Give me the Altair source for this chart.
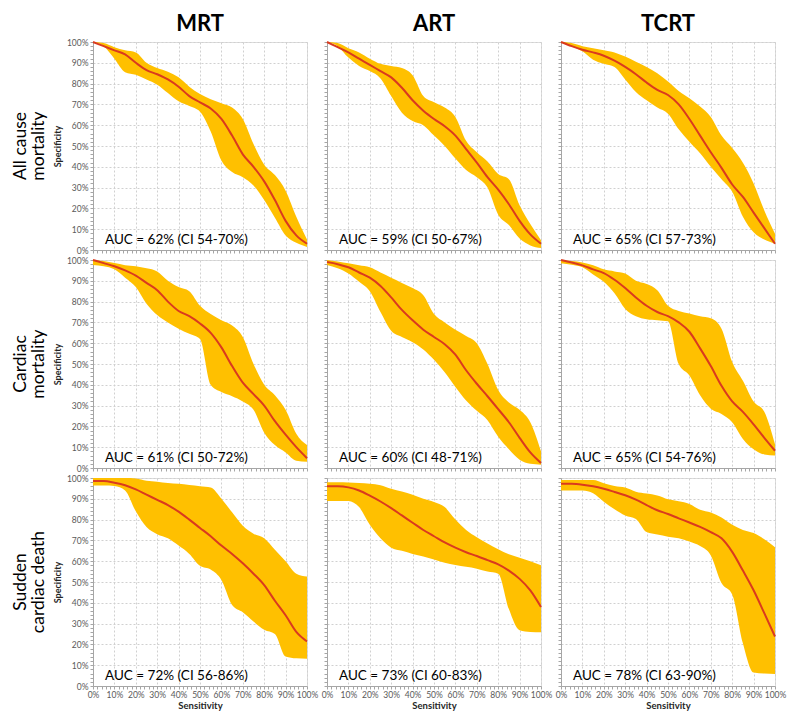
import altair as alt
import pandas as pd

# ---------------- data ----------------
SENS = [0, 5, 10, 15, 20, 25, 30, 35, 40, 45, 50, 55, 60, 65, 70, 75, 80, 85, 90, 95, 100]

COLS = ["MRT", "ART", "TCRT"]
ROWS = ["All cause\nmortality", "Cardiac\nmortality", "Sudden\ncardiac death"]

# All cause mortality
MRT_ALL_MID = [100, 98, 96, 94, 90, 86.5, 84.5, 82, 78.5, 74, 71, 68, 63, 55, 46, 40, 33, 24, 14, 7, 3]
MRT_ALL_LO = [100, 98, 92, 85.5, 84.2, 82, 79.5, 75.5, 71.5, 69.2, 66.5, 57, 43, 37.5, 35, 31, 24, 15.5, 7, 3.5, 1.5]
MRT_ALL_HI = [100, 99.5, 97.5, 96, 95, 90, 87.5, 85.7, 83, 78.5, 75, 72.5, 70.6, 68.5, 63, 51, 41, 36, 28.5, 16, 5]

ART_ALL_MID = [100, 97.5, 95, 92, 89, 86, 83, 78, 72, 67, 63, 59.5, 55, 48.5, 42, 35, 29, 22, 14, 7.5, 3]
ART_ALL_LO = [100, 98, 92.5, 88.5, 86, 82.5, 74, 66, 62, 60, 55, 50, 44, 38.5, 35, 30, 17, 12, 5.5, 2.2, 1]
ART_ALL_HI = [100, 99.5, 97, 95, 92, 89.5, 88.5, 87.5, 84, 74, 71, 68.5, 64, 52.5, 47, 42.5, 36.5, 34, 21.5, 12.5, 4.7]

TCRT_ALL_MID = [100, 98, 96.3, 95, 93.4, 91, 88, 84.5, 80.5, 77, 74.5, 70, 63, 55, 47, 39.5, 31.5, 25.5, 18, 10.5, 3]
TCRT_ALL_LO = [100, 98, 95.5, 91.5, 89.5, 88, 82, 76, 72, 68.5, 65.5, 58, 52, 46.5, 40, 34, 28, 16, 8.5, 5, 3]
TCRT_ALL_HI = [100, 99.5, 98, 97, 96, 95, 93, 90.5, 88, 85, 81, 76.5, 73, 69, 64, 55, 49, 42, 32, 19, 7.8]

# Cardiac mortality
MRT_CAR_MID = [100, 98.5, 97, 95, 92.5, 89, 85.5, 80, 75.5, 73, 69.5, 65, 58, 49, 41, 35.5, 30, 22.5, 16, 10, 4.7]
MRT_CAR_LO = [97.6, 97, 95.5, 91.5, 87, 79, 73.5, 70, 67, 64.5, 62, 40, 36.5, 34.5, 32, 28, 17, 11, 7.5, 3.5, 3]
MRT_CAR_HI = [100, 99.5, 98.5, 97.5, 97, 96, 94.5, 90, 87, 85, 78, 74, 71, 68.5, 63, 50, 40, 35, 28, 16.5, 11]

ART_CAR_MID = [99, 98, 96.5, 94, 91.5, 87.5, 82, 76, 71, 66.5, 63, 59.5, 54.5, 47, 40.5, 34.5, 28.3, 22, 14.5, 7.5, 2.4]
ART_CAR_LO = [97.6, 96, 93.5, 89.5, 85, 75, 66, 63, 60.5, 57, 52, 46, 39, 32.5, 27.5, 23, 15, 9, 4, 2, 1.6]
ART_CAR_HI = [100, 99.3, 98.4, 97.5, 96.5, 94, 91.5, 89, 86.5, 83, 74, 70, 66.5, 63.5, 60, 50, 37.5, 31.5, 28, 22, 8]

TCRT_CAR_MID = [100, 98.8, 97.4, 95.5, 93.7, 90.5, 86.5, 82, 78, 75, 73, 70, 65.5, 57.5, 49, 39.5, 32, 27, 21, 14.5, 8.3]
TCRT_CAR_LO = [98.4, 97.7, 96.5, 93, 89.5, 84, 76.5, 73, 71.5, 71, 70.5, 50, 44.5, 35, 28.5, 26, 22, 14, 9, 6.5, 6]
TCRT_CAR_HI = [100, 99.5, 98.8, 97.5, 95.5, 94.5, 93.5, 90, 88.5, 85.5, 78, 75.5, 74.3, 73, 72, 67, 51, 42, 32, 27, 11.4]

# Sudden cardiac death
MRT_SCD_MID = [98.5, 98.5, 97.7, 96.5, 94.5, 92, 89.5, 87, 83.8, 80, 76, 72, 67.5, 63.5, 59, 54, 48.5, 41, 34, 26, 21.4]
MRT_SCD_LO = [96.4, 96.4, 96.2, 94, 84, 76.5, 73, 71, 67.5, 63.5, 57.8, 56, 51, 39, 35.5, 31, 27, 25, 14.2, 13.3, 13.1]
MRT_SCD_HI = [100, 100, 100, 100, 99.8, 98.7, 98.2, 97.6, 97.2, 96.6, 96, 95.4, 90, 83.5, 77, 73.2, 71, 65.5, 60, 54, 52.6]

ART_SCD_MID = [96, 96, 95.5, 94, 91.5, 88.7, 85.5, 82, 78.5, 75, 72, 69, 66.5, 64.3, 62.5, 60.5, 58.5, 55.5, 51.5, 46, 38]
ART_SCD_LO = [89, 89, 89, 86, 77.5, 71, 66.5, 65, 63.5, 62.2, 60.8, 59.2, 58.2, 57.3, 56.4, 55, 54, 37, 26.8, 26, 25.8]
ART_SCD_HI = [98, 97.9, 97.8, 97.6, 97.2, 96.5, 94.8, 93.5, 92, 90, 88.5, 86, 80, 75, 71.5, 68.5, 65.8, 63.4, 61.7, 60, 58]

TCRT_SCD_MID = [97.2, 97.2, 96.8, 96, 94.8, 93.3, 91.7, 89.6, 87, 84.5, 82.7, 80.6, 78.6, 76.5, 74, 71, 64.5, 55.5, 46, 35, 23.8]
TCRT_SCD_LO = [94, 94, 94, 92.7, 88.6, 85, 82, 80.3, 74, 72.8, 71.8, 71, 69.5, 67.3, 62.8, 49.5, 44, 20.6, 6.5, 6, 5.8]
TCRT_SCD_HI = [99, 99, 99, 99, 97.5, 96.2, 95.4, 93.4, 92.5, 91.6, 89.8, 88.8, 87.5, 84.7, 83.4, 81, 77.5, 75, 73.5, 70.5, 66.7]

AUC_TEXT = [
    ["AUC = 62% (CI 54-70%)", "AUC = 59% (CI 50-67%)", "AUC = 65% (CI 57-73%)"],
    ["AUC = 61% (CI 50-72%)", "AUC = 60% (CI 48-71%)", "AUC = 65% (CI 54-76%)"],
    ["AUC = 72% (CI 56-86%)", "AUC = 73% (CI 60-83%)", "AUC = 78% (CI 63-90%)"],
]

SERIES = [
    [(MRT_ALL_MID, MRT_ALL_LO, MRT_ALL_HI), (ART_ALL_MID, ART_ALL_LO, ART_ALL_HI), (TCRT_ALL_MID, TCRT_ALL_LO, TCRT_ALL_HI)],
    [(MRT_CAR_MID, MRT_CAR_LO, MRT_CAR_HI), (ART_CAR_MID, ART_CAR_LO, ART_CAR_HI), (TCRT_CAR_MID, TCRT_CAR_LO, TCRT_CAR_HI)],
    [(MRT_SCD_MID, MRT_SCD_LO, MRT_SCD_HI), (ART_SCD_MID, ART_SCD_LO, ART_SCD_HI), (TCRT_SCD_MID, TCRT_SCD_LO, TCRT_SCD_HI)],
]

TICKS = list(range(0, 101, 2))

# ---------------- styling ----------------
FONT = "Lato"
BAND = "#FFC000"
LINE = "#DA3A1E"
FRAME = "#A6A6A6"
W, H = 214, 208

grid_op = {"condition": {"test": "datum.value % 10 == 0", "value": 1}, "value": 0}
label_expr = "datum.value % 10 == 0 ? datum.value + '%' : ''"


def x_axis(show):
    return alt.Axis(
        values=TICKS, labels=show, labelExpr=label_expr, labelOverlap=False, labelFlush=False,
        labelFont=FONT, labelFontSize=8.5, labelColor="#595959", labelPadding=1,
        title="Sensitivity" if show else None, titleFont=FONT, titleFontSize=9.5,
        titleFontWeight="bold", titleColor="#262626", titlePadding=2,
        tickSize=3, tickColor=FRAME, domainColor=FRAME,
        grid=True, gridColor="#D0D0D0", gridDash=[2, 2], gridOpacity=grid_op,
    )


def y_axis(show):
    return alt.Axis(
        values=TICKS, labels=show, labelExpr=label_expr, labelOverlap=False, labelFlush=False,
        labelFont=FONT, labelFontSize=8.5, labelColor="#595959", labelPadding=2,
        title="Specificity" if show else None, titleFont=FONT, titleFontSize=9,
        titleFontWeight="bold", titleColor="#262626", titlePadding=4,
        tickSize=3, tickColor=FRAME, domainColor=FRAME,
        grid=True, gridColor="#D0D0D0", gridDash=[2, 2], gridOpacity=grid_op,
    )


def panel(r, c):
    mid, lo, hi = SERIES[r][c]
    df = pd.DataFrame({"sens": SENS, "mid": mid, "lo": lo, "hi": hi})
    xs = alt.Scale(domain=[0, 100], nice=False, zero=False)
    ys = alt.Scale(domain=[0, 100], nice=False, zero=False)
    x = alt.X("sens:Q", scale=xs, axis=x_axis(r == 2))
    band = alt.Chart(df).mark_area(color=BAND, opacity=1, interpolate="monotone").encode(
        x=x, y=alt.Y("lo:Q", scale=ys, axis=y_axis(c == 0)), y2="hi:Q"
    )
    line = alt.Chart(df).mark_line(color=LINE, strokeWidth=2, interpolate="monotone").encode(
        x=x, y=alt.Y("mid:Q", scale=ys, axis=y_axis(c == 0))
    )
    auc = alt.Chart(pd.DataFrame({"t": [AUC_TEXT[r][c]]})).mark_text(
        align="left", baseline="alphabetic", font=FONT, fontSize=13.5, color="#000000"
    ).encode(x=alt.value(12), y=alt.value(H - 6), text="t:N")
    layers = [band, line, auc]
    if c == 0:
        lab = alt.Chart(pd.DataFrame({"t": [ROWS[r]]})).mark_text(
            angle=270, align="center", baseline="middle", lineBreak="\n",
            font=FONT, fontSize=17.5, lineHeight=18, color="#000000"
        ).encode(x=alt.value(-72), y=alt.value(H / 2), text="t:N")
        layers.append(lab)
    ch = alt.layer(*layers).properties(width=W, height=H)
    if r == 0:
        ch = ch.properties(title=alt.TitleParams(
            COLS[c], font=FONT, fontSize=22, fontWeight="bold", color="#000000", offset=2, anchor="middle"))
    return ch


panels = [panel(r, c) for r in range(3) for c in range(3)]
chart = alt.concat(*panels, columns=3, spacing={"row": 10, "column": 20}, bounds="flush").properties(
    padding={"left": 3, "top": 4, "right": 2, "bottom": 1}
).configure_view(stroke=FRAME, strokeWidth=1.2).configure(background="white")

chart.save("out.html", embed_options={"renderer": "svg", "actions": False})
